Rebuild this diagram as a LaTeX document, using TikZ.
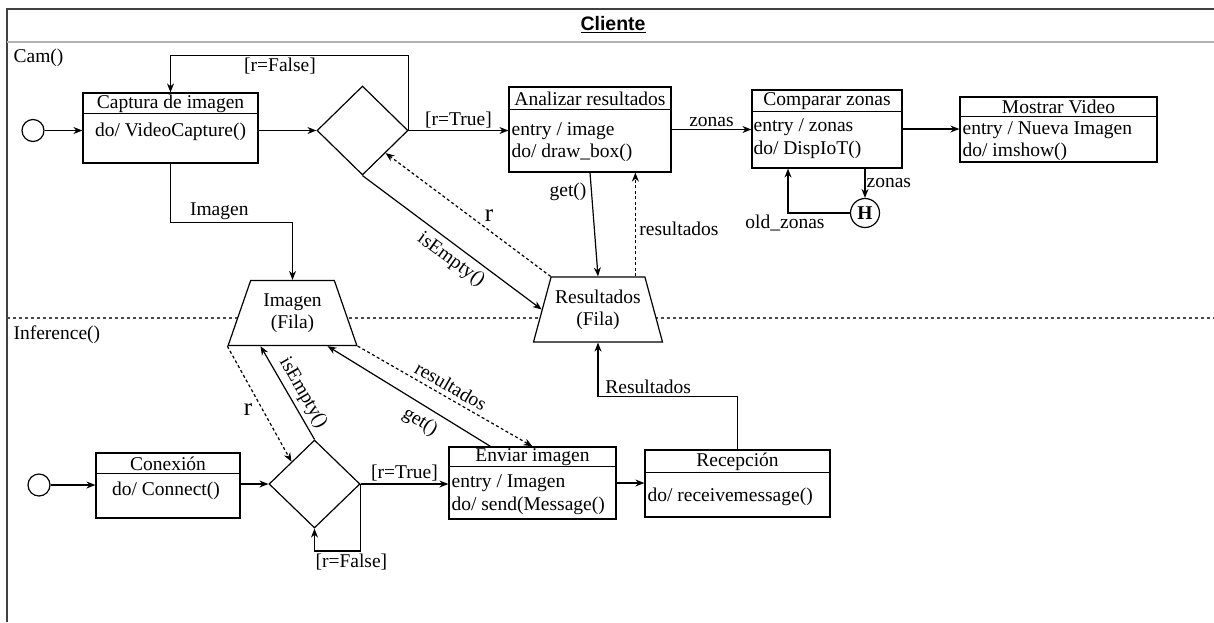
\documentclass[tikz,border=0pt]{standalone}
\usepackage{fontspec}
\setmainfont{Liberation Serif}
\newfontfamily\titlefont{Liberation Sans}
\usetikzlibrary{arrows.meta, shapes.geometric, positioning}

\begin{document}
\begin{tikzpicture}[x=1pt, y=-1pt, line width=1.2pt,
	>={Stealth[length=9pt,width=7pt]},
	every node/.style={font=\fontsize{19.5}{22}\selectfont},
	statebox/.style={draw, rectangle, inner sep=0pt, fill=white},
	choice/.style={draw, diamond, inner sep=0pt, minimum width=91pt, minimum height=89pt},
	fila/.style={draw, trapezium, trapezium stretches=true, trapezium angle=68,
		minimum width=129pt, minimum height=65pt, inner sep=0pt, fill=white, align=center},
	startnode/.style={draw, circle, minimum size=22pt, inner sep=0pt},
	hist/.style={draw, circle, minimum size=29pt, inner sep=0pt,
		font=\fontsize{19.5}{22}\selectfont\bfseries},
	body/.style={anchor=west, align=left, inner sep=0pt},
	lbl/.style={inner sep=2pt},
	biglbl/.style={font=\fontsize{25}{27}\selectfont},
	flow/.style={->},
	dataflow/.style={->, dash pattern=on 3pt off 2.5pt}]
	\useasboundingbox (0,0) rectangle (1214,622);

	% marco y carriles
	\draw[line width=2pt, draw=black!75] (7,622) -- (7,9) -- (1214,9);
	\draw[line width=1.5pt, draw=black!30] (7,42) -- (1214,42);
	\draw[line width=1.2pt, draw=black!70, dash pattern=on 3pt off 3pt] (7,318) -- (1214,318);
	\node (title) at (613,25) {\titlefont\bfseries\underline{Cliente}};
	\node[anchor=west, inner sep=0pt] (cam) at (13,58) {Cam()};
	\node[anchor=west, inner sep=0pt] (inference) at (13,335) {Inference()};

	% Cam()
	\node[startnode] (init1) at (33,130.5) {};
	\node[statebox, minimum width=175pt, minimum height=70pt] (captura) at (170.5,128) {};
	\draw ([yshift=-21pt]captura.north west) -- ([yshift=-21pt]captura.north east);
	\node (capturaT) at (170.5,103.5) {Captura de imagen};
	\node (capturaB) at (170.5,132) {do/ VideoCapture()};

	\node[choice] (d1) at (362.5,130.5) {};

	\node[statebox, minimum width=162pt, minimum height=85pt] (analizar) at (590,129.5) {};
	\draw ([yshift=-23pt]analizar.north west) -- ([yshift=-23pt]analizar.north east);
	\node (analizarT) at (590,98.5) {Analizar resultados};
	\node[body] (analizarB) at (511,142) {entry / image\\do/ draw\_box()};

	\node[statebox, minimum width=150pt, minimum height=78pt] (comparar) at (827,129) {};
	\draw ([yshift=-22pt]comparar.north west) -- ([yshift=-22pt]comparar.north east);
	\node (compararT) at (827,101) {Comparar zonas};
	\node[body] (compararB) at (753,139) {entry / zonas\\[1pt]do/ DispIoT()};

	\node[statebox, minimum width=197pt, minimum height=65pt] (mostrar) at (1058.5,129.5) {};
	\draw ([yshift=-20pt]mostrar.north west) -- ([yshift=-20pt]mostrar.north east);
	\node (mostrarT) at (1058.5,107) {Mostrar Video};
	\node[body] (mostrarB) at (962,141.5) {entry / Nueva Imagen\\do/ imshow()};

	\node[hist] (hist) at (865,213) {H};

	\node[fila] (resultados) at (598,309.5) {Resultados\\(Fila)};
	\node[fila] (imagen) at (292.5,313) {Imagen\\(Fila)};

	% Inference()
	\node[startnode] (init2) at (39,485) {};
	\node[statebox, minimum width=144pt, minimum height=65pt] (conexion) at (168,485.5) {};
	\draw ([yshift=-21pt]conexion.north west) -- ([yshift=-21pt]conexion.north east);
	\node (conexionT) at (168,463.5) {Conexión};
	\node (conexionB) at (166,491) {do/ Connect()};

	\node[choice, minimum height=88pt] (d2) at (314.5,484) {};

	\node[statebox, minimum width=167pt, minimum height=72pt] (enviar) at (532.5,483) {};
	\draw ([yshift=-20pt]enviar.north west) -- ([yshift=-20pt]enviar.north east);
	\node (enviarT) at (532.5,457) {Enviar imagen};
	\node[body] (enviarB) at (451,495) {entry / Imagen\\[1pt]do/ send(Message()};

	\node[statebox, minimum width=185pt, minimum height=67pt] (recepcion) at (737.5,483.5) {};
	\draw ([yshift=-23pt]recepcion.north west) -- ([yshift=-23pt]recepcion.north east);
	\node (recepcionT) at (737.5,461.5) {Recepción};
	\node[body] (recepcionB) at (647,497) {do/ receivemessage()};

	% transiciones Cam()
	\draw[flow] (init1) -- (init1 -| captura.west);
	\draw[flow] (captura.east |- d1.west) -- (d1.west);
	\draw[flow] (d1.east) -- ++(0,-75) -| node[lbl, pos=0.27, below] (falseA) {[r=False]} (captura.north);
	\draw[flow] (d1.east) -- node[lbl, above] (trueA) {[r=True]} (d1.east -| analizar.west);
	\draw[flow] (analizar.east) -- node[lbl, above] (zonasA) {zonas} (analizar.east -| comparar.west);
	\draw[flow] (comparar.east) -- (comparar.east -| mostrar.west);
	\draw[flow] (comparar.south -| hist.north) -- node[lbl, right, inner sep=1pt] (zonasB) {zonas} (hist.north);
	\draw[flow] (hist.west) -| ([xshift=-39pt]comparar.south);
	\node (oldzonas) at (785,223) {old\_zonas};
	\draw[flow] (captura.south) -- ++(0,59) -| node[lbl, pos=0.2, above] (imagenL) {Imagen} (imagen.north);
	\draw[flow] (d1.south) -- (resultados.west);
	\node[rotate=-36] (isEmptyA) at (451,260) {isEmpty()};
	\draw[dataflow] (resultados.top left corner) -- (d1.south east);
	\node[biglbl] (rA) at (489,216) {r};
	\draw[flow] (analizar.south) -- (resultados.north);
	\node (getA) at (568,192) {get()};
	\coordinate (resR) at ([xshift=-10pt]resultados.top right corner);
	\draw[dataflow] (resR) -- (resR |- analizar.south);
	\node (resA) at (679,229) {resultados};

	% transiciones Inference()
	\draw[flow] (init2) -- (init2 -| conexion.west);
	\draw[flow] (conexion.east |- d2.west) -- (d2.west);
	\draw[flow] (d2.east) -- ++(0,67) -| node[lbl, pos=0.1, below] (falseB) {[r=False]} (d2.south);
	\draw[flow] (d2.east) -- node[lbl, above] (trueB) {[r=True]} (d2.east -| enviar.west);
	\draw[flow] (enviar.east) -- (enviar.east -| recepcion.west);
	\draw[flow] (recepcion.north) -- ++(0,-53) -| node[lbl, pos=0.32, above] (resultadosL) {Resultados} (resultados.south);
	\draw[flow] (d2.north) -- ([xshift=-32pt]imagen.south);
	\node[rotate=-60] (isEmptyB) at (303,393) {isEmpty()};
	\draw[dataflow] (imagen.bottom left corner) -- (d2.north west);
	\node[biglbl] (rB) at (248,410) {r};
	\draw[flow] ([xshift=-42pt]enviar.north) -- ([xshift=35pt]imagen.south);
	\node[rotate=-32] (getB) at (420,422) {get()};
	\draw[dataflow] (imagen.bottom right corner) -- (enviar.north);
	\node[rotate=-30] (resB) at (451,386) {resultados};
\end{tikzpicture}
\end{document}
